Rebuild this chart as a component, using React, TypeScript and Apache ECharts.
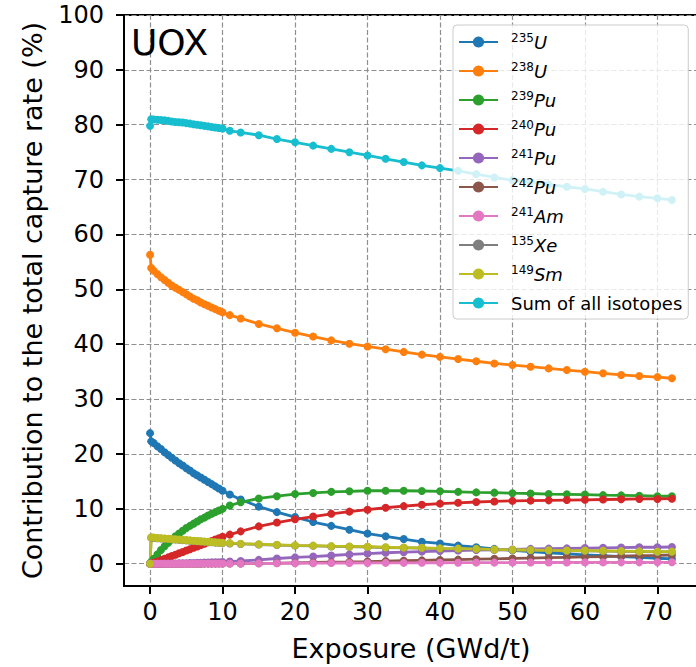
import React, { useEffect, useRef } from "react";
import * as echarts from "echarts";

const FONT = "DejaVu Sans";

// Exposure (GWd/t)
const exposure = [
  0, 0.15, 0.5, 1, 1.5, 2, 2.5, 3, 3.5, 4, 4.5, 5, 5.5, 6, 6.5, 7, 7.5, 8, 8.5, 9, 9.5, 10,
  11, 12.5, 15, 17.5, 20, 22.5, 25, 27.5, 30, 32.5, 35, 37.5, 40, 42.5, 45, 47.5, 50, 52.5, 55, 57.5, 60, 62.5, 65, 67.5, 70, 72,
];

const u235 = [
  23.8, 22.3, 22.0, 21.4, 20.9, 20.3, 19.8, 19.3, 18.8, 18.3, 17.9, 17.4, 17.0, 16.5, 16.1, 15.7, 15.3, 14.9, 14.5, 14.1, 13.7, 13.3,
  12.6, 11.7, 10.4, 9.4, 8.5, 7.6, 6.9, 6.2, 5.5, 5.0, 4.5, 4.0, 3.7, 3.3, 3.0, 2.7, 2.45, 2.2, 2.0, 1.8, 1.6, 1.45, 1.3, 1.15, 1.0, 0.9,
];
const u238 = [
  56.3, 53.9, 53.4, 52.8, 52.2, 51.7, 51.2, 50.7, 50.3, 49.9, 49.5, 49.1, 48.7, 48.3, 48.0, 47.6, 47.3, 47.0, 46.7, 46.4, 46.1, 45.8,
  45.3, 44.7, 43.7, 42.9, 42.1, 41.4, 40.7, 40.1, 39.6, 39.1, 38.6, 38.1, 37.7, 37.3, 36.9, 36.5, 36.2, 35.9, 35.6, 35.3, 35.0, 34.7, 34.4, 34.2, 34.0, 33.8,
];
const pu239 = [
  0, 0.3, 0.9, 1.7, 2.5, 3.2, 3.8, 4.4, 5.0, 5.5, 6.0, 6.5, 6.9, 7.3, 7.7, 8.1, 8.4, 8.8, 9.1, 9.4, 9.7, 10.0,
  10.6, 11.2, 11.9, 12.3, 12.7, 12.9, 13.1, 13.2, 13.3, 13.3, 13.3, 13.25, 13.2, 13.1, 13.0, 12.95, 12.85, 12.8, 12.7, 12.65, 12.6, 12.5, 12.45, 12.4, 12.3, 12.3,
];
const pu240 = [
  0, 0.05, 0.2, 0.4, 0.65, 0.9, 1.15, 1.4, 1.65, 1.9, 2.15, 2.4, 2.65, 2.9, 3.15, 3.4, 3.65, 3.9, 4.15, 4.4, 4.65, 4.9,
  5.3, 5.9, 6.8, 7.5, 8.1, 8.6, 9.1, 9.5, 9.85, 10.2, 10.5, 10.75, 10.95, 11.1, 11.25, 11.35, 11.45, 11.5, 11.55, 11.6, 11.65, 11.7, 11.75, 11.8, 11.8, 11.85,
];
const pu241 = [
  0, 0, 0, 0.01, 0.01, 0.02, 0.03, 0.04, 0.05, 0.07, 0.08, 0.1, 0.12, 0.14, 0.16, 0.18, 0.2, 0.22, 0.24, 0.26, 0.28, 0.3,
  0.4, 0.5, 0.7, 0.95, 1.15, 1.3, 1.5, 1.7, 1.85, 2.0, 2.1, 2.2, 2.3, 2.4, 2.5, 2.55, 2.6, 2.7, 2.75, 2.8, 2.85, 2.9, 2.95, 3.0, 3.0, 3.05,
];
const pu242 = [
  0, 0, 0, 0, 0, 0, 0, 0, 0, 0, 0, 0.01, 0.01, 0.01, 0.01, 0.01, 0.02, 0.02, 0.02, 0.02, 0.03, 0.03,
  0.04, 0.05, 0.08, 0.12, 0.17, 0.22, 0.28, 0.34, 0.4, 0.47, 0.54, 0.61, 0.68, 0.75, 0.82, 0.89, 0.96, 1.03, 1.1, 1.17, 1.24, 1.31, 1.38, 1.45, 1.52, 1.58,
];
const am241 = [
  0, 0, 0, 0, 0, 0, 0, 0.01, 0.01, 0.01, 0.01, 0.01, 0.01, 0.02, 0.02, 0.02, 0.02, 0.02, 0.03, 0.03, 0.03, 0.03,
  0.04, 0.05, 0.06, 0.08, 0.09, 0.1, 0.12, 0.13, 0.14, 0.15, 0.16, 0.17, 0.18, 0.19, 0.2, 0.2, 0.21, 0.22, 0.22, 0.23, 0.24, 0.24, 0.25, 0.25, 0.26, 0.26,
];
// hidden beneath the 149Sm curve in the picture
const xe135 = [
  0, 4.75, 4.7, 4.65, 4.6, 4.55, 4.5, 4.45, 4.4, 4.35, 4.3, 4.25, 4.2, 4.15, 4.1, 4.05, 4.0, 3.95, 3.9, 3.85, 3.8, 3.75,
  3.7, 3.6, 3.5, 3.4, 3.3, 3.25, 3.15, 3.1, 3.05, 2.95, 2.9, 2.85, 2.75, 2.7, 2.65, 2.55, 2.5, 2.45, 2.4, 2.35, 2.35, 2.3, 2.25, 2.2, 2.15, 2.15,
];
const sm149 = [
  0, 4.8, 4.75, 4.7, 4.65, 4.6, 4.55, 4.5, 4.45, 4.4, 4.35, 4.3, 4.25, 4.2, 4.15, 4.1, 4.05, 4.0, 3.95, 3.9, 3.85, 3.8,
  3.75, 3.65, 3.55, 3.45, 3.35, 3.3, 3.2, 3.15, 3.1, 3.0, 2.95, 2.9, 2.8, 2.75, 2.7, 2.6, 2.55, 2.5, 2.45, 2.4, 2.4, 2.35, 2.3, 2.25, 2.2, 2.2,
];
const sumAll = [
  79.8, 81.0, 80.95, 80.9, 80.85, 80.8, 80.7, 80.6, 80.5, 80.45, 80.4, 80.3, 80.2, 80.1, 80.0, 79.9, 79.8, 79.7, 79.6, 79.5, 79.4, 79.3,
  78.9, 78.6, 78.1, 77.4, 76.8, 76.2, 75.6, 75.0, 74.4, 73.8, 73.2, 72.6, 72.1, 71.6, 71.0, 70.4, 69.9, 69.5, 69.1, 68.7, 68.3, 67.8, 67.3, 66.9, 66.6, 66.3,
];

const xTicks = [0, 10, 20, 30, 40, 50, 60, 70];
const yTicks = [0, 10, 20, 30, 40, 50, 60, 70, 80, 90, 100];

const seriesNames = ["235U", "238U", "239Pu", "240Pu", "241Pu", "242Pu", "241Am", "135Xe", "149Sm", "Sum of all isotopes"];
const seriesValues = [u235, u238, pu239, pu240, pu241, pu242, am241, xe135, sm149, sumAll];
const colors = ["#1f77b4", "#ff7f0e", "#2ca02c", "#d62728", "#9467bd", "#8c564b", "#e377c2", "#7f7f7f", "#bcbd22", "#17becf"];

function legendLabel(name: string): string {
  const m = name.match(/^(\d+)([A-Za-z]+)$/);
  if (m) return `{g| }{sup|${m[1]}}{it|${m[2]}}`;
  return `{g| }{n|${name}}`;
}

export default function App() {
  const ref = useRef<HTMLDivElement>(null);
  useEffect(() => {
    document.body.style.margin = "0";
    if (!ref.current) return;
    const chart = echarts.init(ref.current, null, { renderer: "svg" });
    const axisCommon = {
      type: "value" as const,
      nameLocation: "middle" as const,
      nameTextStyle: { fontSize: 27, color: "#000", fontFamily: FONT },
      axisLine: { show: true, onZero: false, lineStyle: { color: "#000", width: 2 } },
      splitLine: { show: true, lineStyle: { color: "#8f8f8f", type: [5, 2.5], width: 1.2 } },
    };
    chart.setOption({
      animation: false,
      textStyle: { fontFamily: FONT },
      color: colors,
      grid: {
        left: 124, top: 15, right: -2, bottom: 81,
        show: true, borderColor: "#000", borderWidth: 2, backgroundColor: "transparent",
        outerBoundsMode: "none",
      },
      xAxis: {
        ...axisCommon,
        min: -3.6, max: 75.6,
        name: "Exposure (GWd/t)", nameGap: 49,
        axisTick: { show: true, length: 8, lineStyle: { color: "#000", width: 2 }, customValues: xTicks },
        axisLabel: { customValues: xTicks, fontSize: 24, color: "#000", margin: 14, fontFamily: FONT },
      },
      yAxis: {
        ...axisCommon,
        min: -4.06, max: 100,
        name: "Contribution to the total capture rate (%)", nameGap: 78,
        axisTick: { show: true, length: 8, lineStyle: { color: "#000", width: 2 }, customValues: yTicks },
        axisLabel: { customValues: yTicks, fontSize: 24, color: "#000", margin: 20, fontFamily: FONT },
      },
      legend: {
        orient: "vertical",
        left: 453, top: 25,
        padding: [6, 6, 5, 5],
        itemGap: 7,
        itemWidth: 39, itemHeight: 14,
        backgroundColor: "rgba(255,255,255,0.8)",
        borderColor: "#cccccc", borderWidth: 1, borderRadius: 4,
        formatter: legendLabel,
        textStyle: {
          fontFamily: FONT, fontSize: 18, color: "#000", lineHeight: 22,
          rich: {
            g: { width: 8, fontSize: 18 },
            sup: { fontSize: 12, verticalAlign: "top", lineHeight: 12, padding: [1, 0, 0, 0], fontFamily: FONT },
            it: { fontSize: 18, fontStyle: "italic", lineHeight: 22, fontFamily: FONT },
            n: { fontSize: 18, lineHeight: 22, fontFamily: FONT },
          },
        },
        data: seriesNames,
      },
      graphic: [
        { type: "text", left: 131, top: 24, z: 10, style: { text: "UOX", fontSize: 36, fontFamily: FONT, fill: "#000" } },
      ],
      series: seriesNames.map((name, i) => ({
        name,
        type: "line",
        data: exposure.map((x, j) => [x, seriesValues[i][j]]),
        symbol: "circle",
        symbolSize: 8,
        showSymbol: true,
        showAllSymbol: true,
        clip: false,
        lineStyle: { width: 2.8, color: colors[i] },
        itemStyle: { color: colors[i] },
      })),
    });
    return () => chart.dispose();
  }, []);
  return <div ref={ref} style={{ width: 696, height: 667 }} />;
}
